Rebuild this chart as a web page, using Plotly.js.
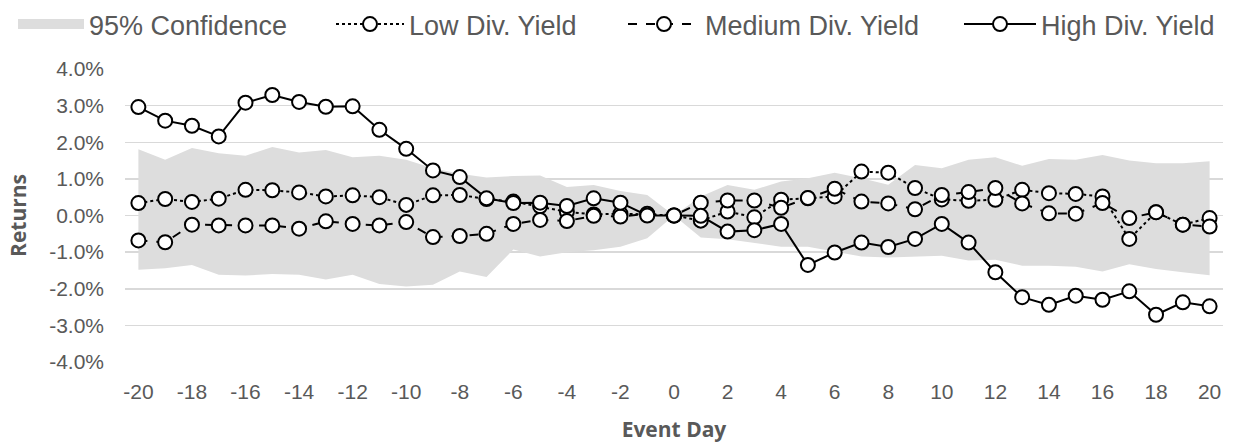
<!DOCTYPE html>
<html>
<head>
<meta charset="utf-8">
<script src="https://cdn.plot.ly/plotly-3.0.1.min.js"></script>
<style>html,body{margin:0;padding:0;background:#fff;}#chart{width:1233px;height:443px;}</style>
</head>
<body>
<div id="chart"></div>
<script>
// Event days
const days = [-20,-19,-18,-17,-16,-15,-14,-13,-12,-11,-10,-9,-8,-7,-6,-5,-4,-3,-2,-1,0,1,2,3,4,5,6,7,8,9,10,11,12,13,14,15,16,17,18,19,20];
// Returns in percent
const highDiv = [2.96,2.59,2.45,2.16,3.08,3.29,3.10,2.97,2.98,2.34,1.82,1.23,1.05,0.47,0.34,0.35,0.26,0.47,0.35,0.00,0.00,-0.01,-0.44,-0.40,-0.23,-1.35,-1.01,-0.74,-0.86,-0.64,-0.23,-0.74,-1.55,-2.23,-2.44,-2.19,-2.30,-2.07,-2.71,-2.37,-2.48];
const lowDiv = [0.34,0.45,0.37,0.46,0.70,0.69,0.63,0.52,0.55,0.50,0.29,0.55,0.56,0.45,0.38,0.25,0.10,0.03,0.05,0.03,0.00,-0.14,0.11,-0.05,0.43,0.47,0.52,1.20,1.17,0.75,0.44,0.40,0.43,0.70,0.61,0.59,0.52,-0.64,0.09,-0.25,-0.07];
const medDiv = [-0.68,-0.73,-0.25,-0.27,-0.27,-0.27,-0.36,-0.16,-0.23,-0.27,-0.18,-0.59,-0.56,-0.50,-0.23,-0.12,-0.15,-0.01,-0.03,0.05,0.00,0.35,0.41,0.41,0.21,0.48,0.73,0.38,0.33,0.17,0.56,0.64,0.75,0.33,0.06,0.05,0.34,-0.07,0.09,-0.25,-0.30];
const ciUpper = [1.81,1.52,1.84,1.70,1.63,1.87,1.72,1.79,1.59,1.63,1.52,1.29,1.14,1.04,1.08,1.09,0.78,0.83,0.67,0.56,0.00,0.52,0.83,0.70,0.93,1.02,1.17,1.02,0.84,1.38,1.29,1.52,1.59,1.36,1.54,1.52,1.65,1.50,1.43,1.43,1.48];
const ciLower = [-1.48,-1.44,-1.35,-1.62,-1.64,-1.60,-1.62,-1.75,-1.62,-1.87,-1.94,-1.89,-1.53,-1.68,-0.93,-1.12,-1.00,-0.95,-0.85,-0.62,0.00,-0.60,-0.65,-0.76,-0.85,-0.85,-0.99,-1.12,-1.15,-1.13,-1.10,-1.23,-1.21,-1.37,-1.37,-1.40,-1.53,-1.33,-1.46,-1.55,-1.63];
const seriesNames = ['95% Confidence','Low Div. Yield','Medium Div. Yield','High Div. Yield'];
// Tick labels
const xTickVals = [-20,-18,-16,-14,-12,-10,-8,-6,-4,-2,0,2,4,6,8,10,12,14,16,18,20];
const xTickText = ['-20','-18','-16','-14','-12','-10','-8','-6','-4','-2','0','2','4','6','8','10','12','14','16','18','20'];
const yTickVals = [-4,-3,-2,-1,0,1,2,3,4];
const yTickText = ['-4.0%','-3.0%','-2.0%','-1.0%','0.0%','1.0%','2.0%','3.0%','4.0%'];

const bandColor = '#dddddd';
const mk = {symbol:'circle', size:14, color:'#ffffff', line:{color:'#000000', width:2}};

const traces = [
  {x: days, y: ciLower, type:'scatter', mode:'lines', line:{width:0, color:bandColor}, showlegend:false, hoverinfo:'skip'},
  {x: days, y: ciUpper, type:'scatter', mode:'lines', fill:'tonexty', fillcolor:bandColor, line:{width:0, color:bandColor}, name: seriesNames[0], showlegend:false, legendgroup:'ci'},
  // legend swatch for the confidence band (no data drawn)
  {x: [null], y: [null], type:'scatter', mode:'lines', line:{width:12, color:bandColor}, name: seriesNames[0], legend:'legend', legendgroup:'ci'},
  {x: days, y: lowDiv, type:'scatter', mode:'lines+markers', name: seriesNames[1], line:{color:'#000', width:2, dash:'dot'}, marker:mk, legend:'legend2'},
  {x: days, y: medDiv, type:'scatter', mode:'lines+markers', name: seriesNames[2], line:{color:'#000', width:2, dash:'dash'}, marker:mk, legend:'legend3'},
  {x: days, y: highDiv, type:'scatter', mode:'lines+markers', name: seriesNames[3], line:{color:'#000', width:2}, marker:mk, legend:'legend4'}
];

const tickFont = {family:'Liberation Sans, Arial, sans-serif', size:21, color:'#595959'};
const titleFont = {family:'Open Sans, sans-serif', size:21, color:'#595959', weight:'bold'};
const legFont = {family:'Liberation Sans, Arial, sans-serif', size:27, color:'#595959'};
function leg(px, iw) {
  return {orientation:'h', x:px/1233, xref:'container', xanchor:'left', y:1, yref:'container', yanchor:'top',
          font:legFont, itemwidth:iw, bgcolor:'rgba(0,0,0,0)'};
}

const layout = {
  width:1233, height:443,
  margin:{l:125, r:10, t:69, b:81, pad:0, autoexpand:false},
  paper_bgcolor:'#ffffff', plot_bgcolor:'#ffffff',
  showlegend:true,
  legend: leg(13, 66),
  legend2: leg(331, 68),
  legend3: leg(623, 72),
  legend4: leg(959, 72),
  xaxis:{range:[-20.5,20.5], tickmode:'array', tickvals:xTickVals, ticktext:xTickText, showgrid:false, zeroline:false,
         showline:false, ticks:'', tickfont:tickFont, ticklabelstandoff:15,
         title:{text:'Event Day', font:titleFont, standoff:20}},
  yaxis:{range:[-4,4], tickmode:'array', tickvals:yTickVals, ticktext:yTickText,
         showgrid:true, gridcolor:'#d9d9d9', gridwidth:1.5, zeroline:false, showline:false, ticks:'',
         tickfont:tickFont, ticklabelstandoff:20,
         title:{text:'Returns', font:titleFont, standoff:16}}
};

Plotly.newPlot('chart', traces, layout, {displayModeBar:false, staticPlot:true});
</script>
</body>
</html>
